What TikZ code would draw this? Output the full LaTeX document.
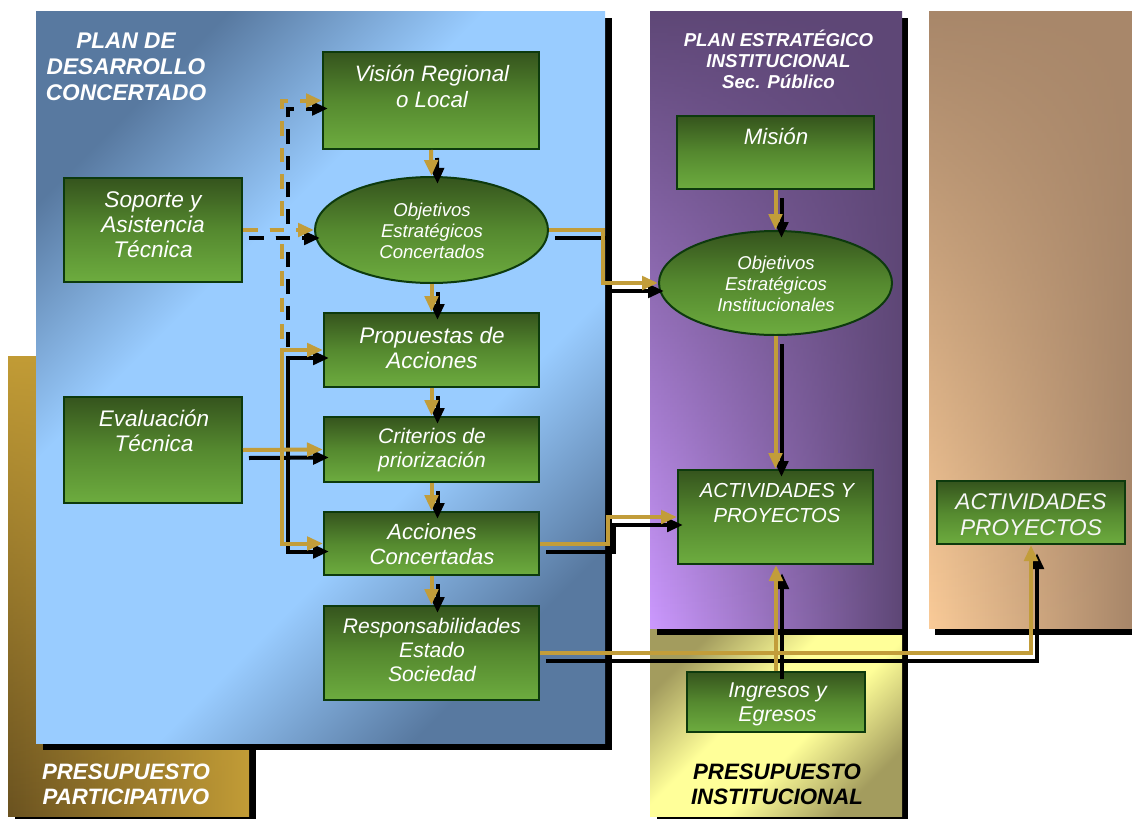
\documentclass[tikz,border=0pt]{standalone}
\usepackage{fontspec}
\setmainfont{Liberation Sans}
\usetikzlibrary{arrows.meta,fadings,shapes.geometric}
\tikzfading[name=topdown, top color=transparent!0, bottom color=transparent!100]
\definecolor{gd}{HTML}{35541D}
\definecolor{gm}{HTML}{55892F}
\definecolor{gl}{HTML}{6DAC3F}
\definecolor{gb}{HTML}{0D3A0D}
\definecolor{goldc}{HTML}{C29C36}
\definecolor{golddk}{HTML}{6A5220}
\definecolor{bluedk}{HTML}{5879A0}
\definecolor{bluelt}{HTML}{99CCFF}
\definecolor{purdk}{HTML}{5E4776}
\definecolor{purlt}{HTML}{CC99FF}
\definecolor{tandk}{HTML}{A8876A}
\definecolor{tanlt}{HTML}{FACB98}
\definecolor{yeldk}{HTML}{A39C5E}
\definecolor{yellt}{HTML}{FFFF99}
\definecolor{arrgold}{HTML}{C29D3A}
\pgfdeclareverticalshading{bluesh}{100bp}{color(0bp)=(bluedk); color(25bp)=(bluedk); color(39bp)=(bluelt); color(61bp)=(bluelt); color(75bp)=(bluedk); color(100bp)=(bluedk)}
\pgfdeclareverticalshading{yelsh}{100bp}{color(0bp)=(yeldk); color(25bp)=(yeldk); color(43bp)=(yellt); color(57bp)=(yellt); color(75bp)=(yeldk); color(100bp)=(yeldk)}
\tikzset{
  gbox/.style={rectangle, draw=gb, line width=1.5pt, top color=gd, bottom color=gl, middle color=gm, inner sep=0pt},
  gell/.style={ellipse, draw=gb, line width=1.5pt, top color=gd, bottom color=gl, middle color=gm, inner sep=0pt},
  panel/.style={rectangle, inner sep=0pt, outer sep=0pt, draw=none},
  btxt/.style={text=white, align=center, inner sep=0pt},
  ttl/.style={align=center, inner sep=0pt},
  conn/.style={draw=arrgold, line width=3pt, -{Triangle[length=12pt,width=10pt]}},
  shd/.style={draw=black, line width=3pt, -{Triangle[length=12pt,width=10pt]}, transform canvas={shift={(6,8)}}},
  dsh/.style={dash pattern=on 11pt off 9pt},
}
\newcommand\connectors[1]{%
  \draw[#1] (vis.south) -- (oec.north);
  \draw[#1] (oec.south) -- (prop.north);
  \draw[#1] (prop.south) -- (crit.north);
  \draw[#1] (crit.south) -- (acc.north);
  \draw[#1] (acc.south) -- (resp.north);
  \draw[#1,dsh] (sop.east) -- (oec.west);
  \draw[#1,dsh] (sop.east) -| (j |- vis.west) -- (vis.west);
  \draw[#1,dsh,-] (sop.east) -| (j |- prop.west);
  \draw[#1] (eva.east) -- (crit.west);
  \draw[#1] (eva.east) -| (j |- prop.west) -- (prop.west);
  \draw[#1] (eva.east) -| (j |- acc.west) -- (acc.west);
  \draw[#1] (oec.east) -| (k |- oei.west) -- (oei.west);
  \draw[#1] (acc.east) -| (m |- act.west) -- (act.west);
  \draw[#1] (resp.east) -| (tact.south);
  \draw[#1] (mis.south) -- (oei.north);
  \draw[#1] (oei.south) -- (act.north);
  \draw[#1] (ing.north) -- (ing.north |- act.south);
}
\begin{document}
\begin{tikzpicture}[x=0.75pt,y=-0.75pt]
\useasboundingbox (0,0) rectangle (1132,818);
\clip (0,0) rectangle (1132,818);
% gold panel
\fill[black] (15,363) rectangle (256,823);
\shade[left color=golddk, right color=goldc] (8,356) rectangle (249,816);
\fill[goldc, path fading=topdown] (8,356) rectangle (249,816);
% blue panel
\fill[black] (43,18) rectangle (612,750);
\node[panel, minimum width=569*0.75pt, minimum height=732*0.75pt, shading=bluesh, shading angle=45] (pdc) at (320.5,377) {};
% yellow panel
\fill[black] (657,635) rectangle (908,823);
\node[panel, minimum width=252*0.75pt, minimum height=188*0.75pt, shading=yelsh, shading angle=45] (pin) at (776,722) {};
% purple panel
\fill[black] (657,18) rectangle (908,635);
\shade[left color=purlt, right color=purdk] (650,11) rectangle (902,628);
\fill[purdk, path fading=topdown] (650,11) rectangle (902,628);
% tan panel
\fill[black] (935,18) rectangle (1140,635);
\shade[left color=tanlt, right color=tandk] (929,11) rectangle (1132,628);
\fill[tandk, path fading=topdown] (929,11) rectangle (1132,628);
% titles
\node[ttl, text=white, font=\bfseries\itshape\fontsize{17}{19.5}\selectfont] (t1) at (126,67) {PLAN DE\\DESARROLLO\\CONCERTADO};
\node[ttl, text=white, font=\bfseries\itshape\fontsize{14}{15.75}\selectfont] (t2) at (778.5,59) {PLAN ESTRATÉGICO\\INSTITUCIONAL\\Sec. Público};
\node[ttl, text=white, font=\bfseries\itshape\fontsize{16.7}{19}\selectfont] (t3) at (126,784) {PRESUPUESTO\\PARTICIPATIVO};
\node[ttl, text=black, font=\bfseries\itshape\fontsize{16.7}{19}\selectfont] (t4) at (777,784) {PRESUPUESTO\\INSTITUCIONAL};
% boxes
\node[gbox, minimum width=216*0.75pt, minimum height=97*0.75pt] (vis) at (431,100.5) {};
\node[gbox, minimum width=178*0.75pt, minimum height=104*0.75pt] (sop) at (153,230) {};
\node[gell, minimum width=233*0.75pt, minimum height=106*0.75pt] (oec) at (431.5,230) {};
\node[gbox, minimum width=215*0.75pt, minimum height=74*0.75pt] (prop) at (431.5,350) {};
\node[gbox, minimum width=215*0.75pt, minimum height=65*0.75pt] (crit) at (431.5,449.5) {};
\node[gbox, minimum width=215*0.75pt, minimum height=63*0.75pt] (acc) at (431.5,543.5) {};
\node[gbox, minimum width=215*0.75pt, minimum height=94*0.75pt] (resp) at (431.5,653) {};
\node[gbox, minimum width=178*0.75pt, minimum height=106*0.75pt] (eva) at (153,450) {};
\node[gbox, minimum width=197*0.75pt, minimum height=73*0.75pt] (mis) at (775.5,152.5) {};
\node[gell, minimum width=233*0.75pt, minimum height=104*0.75pt] (oei) at (775.5,283) {};
\node[gbox, minimum width=195*0.75pt, minimum height=94*0.75pt] (act) at (775.5,517) {};
\node[gbox, minimum width=178*0.75pt, minimum height=60*0.75pt] (ing) at (776,702) {};
\node[gbox, minimum width=188*0.75pt, minimum height=63*0.75pt] (tact) at (1031,512.5) {};
% box texts
\node[btxt, font=\itshape\fontsize{16.7}{19.5}\selectfont] (x1) at (432,86) {Visión Regional\\o Local};
\node[btxt, font=\itshape\fontsize{17}{18.75}\selectfont] (x2) at (153,225) {Soporte y\\Asistencia\\Técnica};
\node[btxt, font=\itshape\fontsize{13.9}{15.75}\selectfont] (x3) at (432,231) {Objetivos\\Estratégicos\\Concertados};
\node[btxt, font=\itshape\fontsize{16.9}{18.75}\selectfont] (x4) at (432,347.5) {Propuestas de\\Acciones};
\node[btxt, font=\itshape\fontsize{15.8}{18}\selectfont] (x5) at (432,450) {Criterios de\\priorización};
\node[btxt, font=\itshape\fontsize{16.5}{18.75}\selectfont] (x6) at (432,544.5) {Acciones\\Concertadas};
\node[btxt, font=\itshape\fontsize{15.8}{18}\selectfont] (x7) at (432,650) {Responsabilidades\\Estado\\Sociedad};
\node[btxt, font=\itshape\fontsize{16.9}{19}\selectfont] (x8) at (154,431) {Evaluación\\Técnica};
\node[btxt, font=\itshape\fontsize{16.7}{19}\selectfont] (x9) at (776,136) {Misión};
\node[btxt, font=\itshape\fontsize{13.9}{15.75}\selectfont] (x10) at (776,284) {Objetivos\\Estratégicos\\Institucionales};
\node[btxt, font=\itshape\fontsize{15.2}{18.75}\selectfont] (x11) at (777,503.5) {ACTIVIDADES Y\\PROYECTOS};
\node[btxt, font=\itshape\fontsize{16}{18}\selectfont] (x12) at (777.5,704) {Ingresos y\\Egresos};
\node[btxt, text=white!93!gray, font=\itshape\fontsize{17}{19.5}\selectfont] (x13) at (1031,514.5) {ACTIVIDADES\\PROYECTOS};
% junction coordinates
\coordinate (j) at (282,0);
\coordinate (k) at (603,0);
\coordinate (m) at (608,0);
% connectors: shadows first, then gold
\connectors{shd}
\connectors{conn}
\end{tikzpicture}
\end{document}
